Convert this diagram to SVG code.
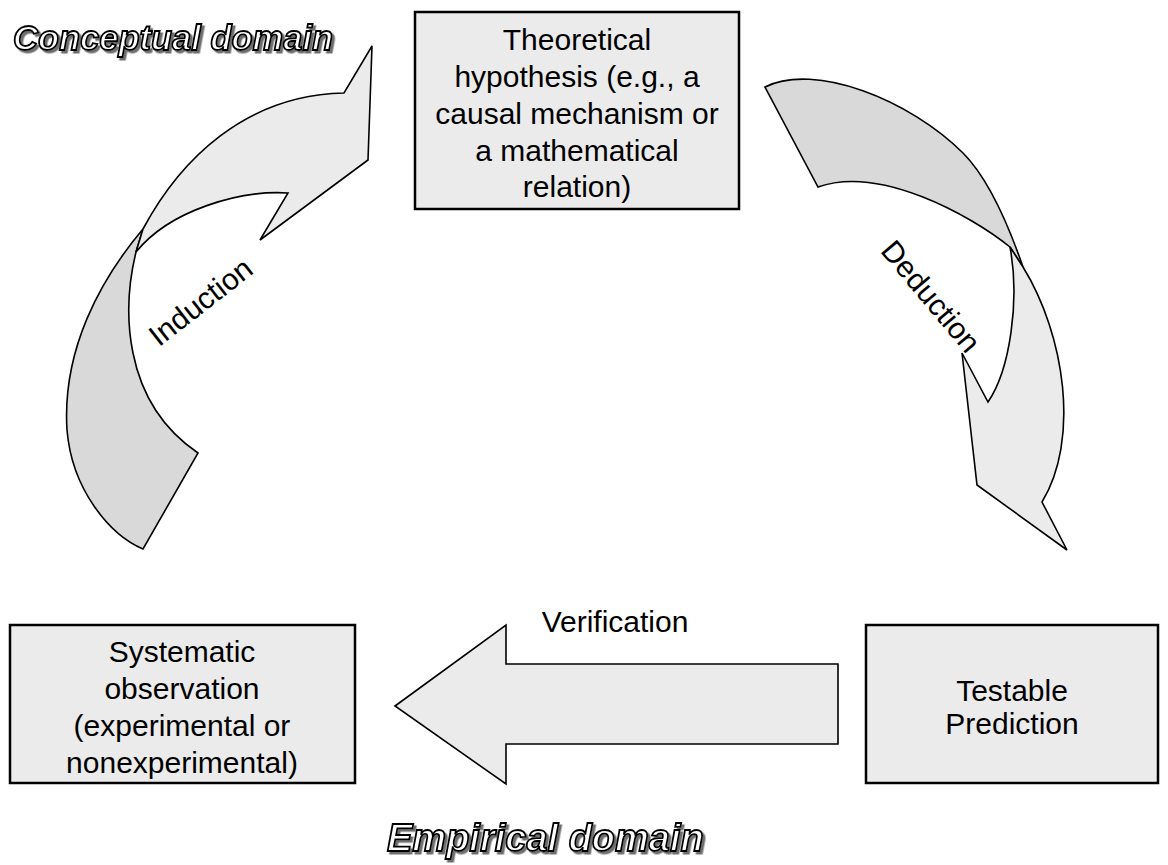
<svg xmlns="http://www.w3.org/2000/svg" width="1168" height="865" viewBox="0 0 1168 865">
<defs>
<filter id="shadow" x="-5%" y="-20%" width="110%" height="150%">
  <feDropShadow dx="2.5" dy="2.5" stdDeviation="0.6" flood-color="#6e6e6e" flood-opacity="1"/>
</filter>
</defs>
<style>
.box{fill:#ebebeb;stroke:#000;stroke-width:2.5}
.lt{fill:#ebebeb;stroke:#000;stroke-width:1.6;stroke-linejoin:miter}
.dk{fill:#d9d9d9;stroke:#000;stroke-width:1.6;stroke-linejoin:miter}
.t{font-family:"Liberation Sans",Arial,sans-serif;font-size:30px;fill:#000;text-anchor:middle}
.dom{font-family:"Liberation Sans",Arial,sans-serif;font-weight:bold;font-style:italic;fill:#fff;stroke:#000;stroke-width:1.8;filter:url(#shadow)}
</style>
<rect width="1168" height="865" fill="#fff"/>
<g id="connectors">
  <g id="induction">
    <path class="dk" d="M143,549 C110,535 72,490 67,430 C62,350 100,280 143,229 L136,252 C123,305 120,400 198,453 Z"/>
    <path class="lt" d="M143,229 C180,160 245,95 344,93 L372,46 L368,160 L260,240 L288,193 C240,190 170,210 136,252 Z"/>
    <text class="t" transform="translate(207,310) rotate(-38)">Induction</text>
  </g>
  <g id="deduction">
    <path class="dk" d="M765,87 C815,62 910,100 963,153 C985,175 1005,215 1023,267 L1010,247 C970,215 880,165 818,187 Z"/>
    <path class="lt" d="M1023,267 C1065,335 1080,440 1042,502 L1067,550 L977,485 L962,353 L988,402 C1010,370 1020,300 1010,247 Z"/>
    <text class="t" transform="translate(923,303) rotate(50)">Deduction</text>
  </g>
  <g id="verification">
    <path class="lt" d="M395,706 L506,625 L506,664 L838,664 L838,744 L506,744 L506,784 Z"/>
    <text class="t" x="615" y="632">Verification</text>
  </g>
</g>
<g id="node-theory">
  <rect class="box" x="415" y="12" width="324" height="197"/>
  <text class="t" x="577" y="50">Theoretical</text>
  <text class="t" x="577" y="87">hypothesis (e.g., a</text>
  <text class="t" x="577" y="124">causal mechanism or</text>
  <text class="t" x="577" y="161">a mathematical</text>
  <text class="t" x="577" y="197">relation)</text>
</g>
<g id="node-observation">
  <rect class="box" x="10" y="625" width="345" height="158"/>
  <text class="t" x="182" y="662">Systematic</text>
  <text class="t" x="182" y="699">observation</text>
  <text class="t" x="182" y="736">(experimental or</text>
  <text class="t" x="182" y="773">nonexperimental)</text>
</g>
<g id="node-prediction">
  <rect class="box" x="866" y="625" width="292" height="158"/>
  <text class="t" x="1012" y="701">Testable</text>
  <text class="t" x="1012" y="734">Prediction</text>
</g>
<g id="label-conceptual">
  <text class="dom" x="13" y="50" font-size="34.5">Conceptual domain</text>
</g>
<g id="label-empirical">
  <text class="dom" x="387" y="851" font-size="38">Empirical domain</text>
</g>
</svg>
